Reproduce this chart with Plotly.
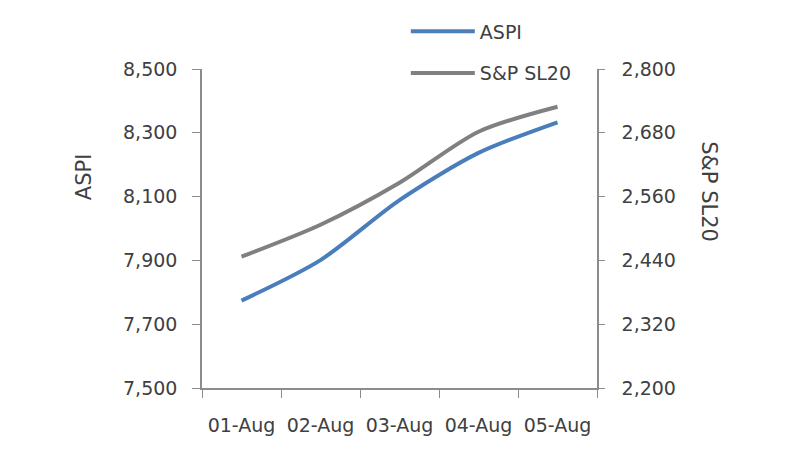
import plotly.graph_objects as go

dates = ["01-Aug", "02-Aug", "03-Aug", "04-Aug", "05-Aug"]
aspi = [7774, 7901, 8089, 8237, 8333]
sp_sl20 = [2447, 2507, 2586, 2682, 2729]
left_ticks = [7500, 7700, 7900, 8100, 8300, 8500]
right_ticks = [2200, 2320, 2440, 2560, 2680, 2800]

FONT = "DejaVu Sans"
TXT = "#404040"
AX = "#8c8c8c"
FS = 19

fig = go.Figure()
fig.add_trace(go.Scatter(x=dates, y=aspi, name="ASPI", mode="lines",
                         line=dict(color="#4A7EBB", width=4, shape="spline", smoothing=0.8),
                         legendgroup="a"))
fig.add_trace(go.Scatter(x=dates, y=sp_sl20, name="S&P SL20", mode="lines",
                         line=dict(color="#808080", width=4, shape="spline", smoothing=0.8),
                         yaxis="y2", legendgroup="b"))

fig.update_layout(
    width=800, height=450,
    margin=dict(l=194, r=211, t=61, b=70, autoexpand=False),
    plot_bgcolor="white", paper_bgcolor="white",
    font=dict(family=FONT, size=FS, color=TXT),
    xaxis=dict(showgrid=False, showline=True, linecolor=AX, linewidth=1.5,
               ticks="outside", tickson="boundaries", ticklen=8, tickcolor=AX,
               tickfont=dict(size=FS, color=TXT),
               ticklabelstandoff=19, range=[-0.5, 4.5]),
    yaxis=dict(range=[7500, 8500], tickvals=left_ticks, ticktext=[f"{v:,}" for v in left_ticks],
               showgrid=False, zeroline=False, showline=True, linecolor=AX, linewidth=1.5,
               ticks="outside", ticklen=8, tickcolor=AX, tickfont=dict(size=FS, color=TXT),
               ticklabelstandoff=11),
    yaxis2=dict(range=[2200, 2800], tickvals=right_ticks, ticktext=[f"{v:,}" for v in right_ticks],
                overlaying="y", side="right",
                showgrid=False, zeroline=False, showline=True, linecolor=AX, linewidth=1.5,
                ticks="outside", ticklen=6, tickcolor=AX, tickfont=dict(size=FS, color=TXT),
                ticklabelstandoff=13),
    showlegend=True,
    legend=dict(x=0.516, y=1.052, xanchor="left", yanchor="middle",
                orientation="v", tracegroupgap=14,
                font=dict(size=FS, color=TXT), bgcolor="rgba(0,0,0,0)", itemwidth=64),
    annotations=[
        dict(text="ASPI", xref="paper", yref="paper", x=-0.2987, y=0.661,
             xanchor="center", yanchor="middle",
             showarrow=False, textangle=-90, font=dict(size=21, color=TXT)),
        dict(text="S&P SL20", xref="paper", yref="paper", x=1.2835, y=0.614,
             xanchor="center", yanchor="middle",
             showarrow=False, textangle=90, font=dict(size=21, color=TXT)),
    ],
)

fig.write_html("out.html")
